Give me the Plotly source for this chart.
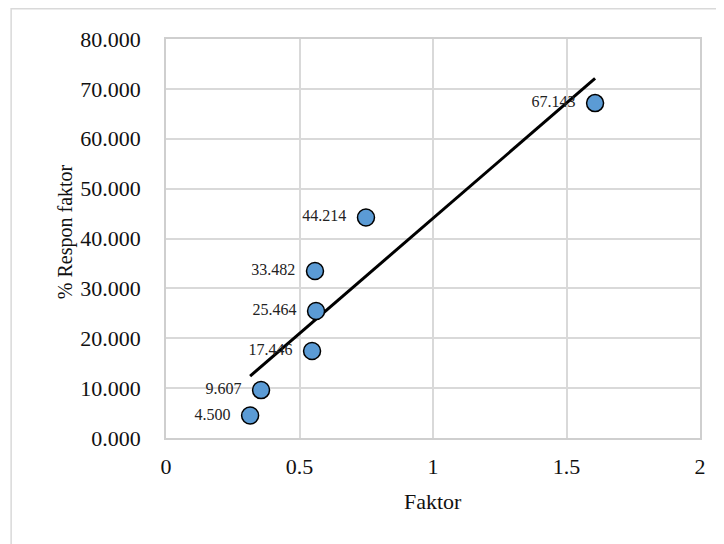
import numpy as np
import plotly.graph_objects as go

faktor = [0.315, 0.356, 0.547, 0.562, 0.558, 0.749, 1.607]
respon = [4.500, 9.607, 17.446, 25.464, 33.482, 44.214, 67.143]
labels = ["4.500", "9.607", "17.446", "25.464", "33.482", "44.214", "67.143"]
x_ticks = [0, 0.5, 1, 1.5, 2]
y_ticks = [0, 10, 20, 30, 40, 50, 60, 70, 80]

slope, intercept = np.polyfit(faktor, respon, 1)
tx = [min(faktor), max(faktor)]
ty = [slope * v + intercept for v in tx]

fig = go.Figure()
fig.add_trace(go.Scatter(
    x=tx, y=ty, mode="lines", line=dict(color="black", width=3),
    showlegend=False, hoverinfo="skip"))
fig.add_trace(go.Scatter(
    x=faktor, y=respon, mode="markers+text", text=["%s  " % t for t in labels],
    textposition="middle left",
    textfont=dict(family="Liberation Serif", size=16, color="#222"),
    marker=dict(size=17, color="#5B9BD5", line=dict(color="black", width=1.5)),
    showlegend=False))

grid = "#d9d9d9"
fig.update_layout(
    width=716, height=536,
    margin=dict(l=158, r=24, t=31, b=106),
    paper_bgcolor="white", plot_bgcolor="white",
    font=dict(family="Liberation Serif", color="#111"),
    xaxis=dict(range=[0, 2], tickvals=x_ticks, ticktext=[str(v) for v in x_ticks],
               showgrid=True, gridcolor=grid, gridwidth=1.5, zeroline=False,
               showline=True, linecolor="#cfcfcf", linewidth=1.5, mirror=True,
               tickfont=dict(size=22), ticks="", ticklabelstandoff=8),
    yaxis=dict(range=[0, 80], tickvals=y_ticks, tickformat=".3f",
               showgrid=True, gridcolor=grid, gridwidth=1.5, zeroline=False,
               showline=True, linecolor="#cfcfcf", linewidth=1.5, mirror=True,
               tickfont=dict(size=22), ticks="", ticklabelstandoff=19),
    annotations=[
        dict(text="Faktor", xref="paper", yref="paper", x=0.5, y=-0.160,
             showarrow=False, font=dict(size=22), xanchor="center", yanchor="middle"),
        dict(text="% Respon faktor", xref="paper", yref="paper", x=-0.189, y=0.516,
             showarrow=False, font=dict(size=20), textangle=-90,
             xanchor="center", yanchor="middle"),
    ],
    shapes=[dict(type="rect", xref="paper", yref="paper",
                 x0=-0.290, x1=1.06, y0=-0.3, y1=1.076,
                 line=dict(color="#d9d9d9", width=1.5), fillcolor="rgba(0,0,0,0)",
                 layer="below")],
)
fig.write_html("out.html")
